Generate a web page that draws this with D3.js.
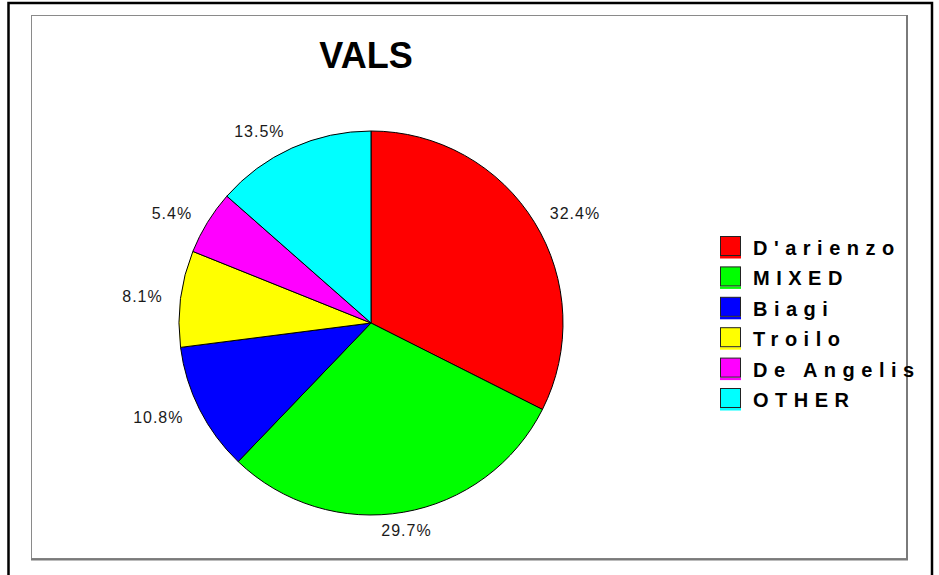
<html>
<head>
<script src="https://cdn.jsdelivr.net/npm/d3@7"></script>
<style>
  body { margin: 0; background: #fff; }
  text { font-family: Arial, "Liberation Sans", sans-serif; }
</style>
</head>
<body>
<script type="text/javascript">
// chart data
var categories = ["D'arienzo", "MIXED", "Biagi", "Troilo", "De Angelis", "OTHER"];
var counts = [12, 11, 4, 3, 2, 5];
var colors = ["#ff0000", "#00ff00", "#0000ff", "#ffff00", "#ff00ff", "#00ffff"];
var title = "VALS";

var width = 939, height = 575;
var svg = d3.select("body").append("svg").attr("width", width).attr("height", height);

// outer black frame (bottom edge runs off the picture)
svg.append("rect").attr("x", 8.5).attr("y", 3).attr("width", 923.5).attr("height", 600)
   .attr("fill", "none").attr("stroke", "#000").attr("stroke-width", 2.5);

// inner grey panel
svg.append("rect").attr("x", 31.5).attr("y", 15.5).attr("width", 875).attr("height", 543)
   .attr("fill", "#fff").attr("stroke", "#8a8a8a").attr("stroke-width", 1);
svg.append("path").attr("d", "M907,15V559.5H31").attr("fill", "none")
   .attr("stroke", "#7a7a7a").attr("stroke-width", 2);

// title
svg.append("text").text(title).attr("x", 366).attr("y", 68)
   .attr("text-anchor", "middle").attr("font-weight", "bold").attr("font-size", "36px");

//The pie
var cx = 371, cy = 323, radius = 192;
var total = d3.sum(counts);
var color = d3.scaleOrdinal().domain(categories).range(colors);
var pct = d3.format(".1%");

var pie = d3.pie().sort(null).value(function(d, i) { return counts[i]; });
var arcs = pie(categories);
var arc = d3.arc().innerRadius(0).outerRadius(radius);
var labelArc = d3.arc().innerRadius(radius + 18).outerRadius(radius + 18);

var g = svg.append("g").attr("transform", "translate(" + cx + "," + cy + ")");

g.selectAll("path.slice").data(arcs).enter().append("path")
 .attr("class", "slice")
 .attr("d", arc)
 .attr("fill", function(d) { return color(d.data); })
 .attr("stroke", "#000").attr("stroke-width", 1).attr("stroke-linejoin", "round");

g.selectAll("text.pct").data(arcs).enter().append("text")
 .attr("class", "pct")
 .text(function(d) { return pct(d.value / total); })
 .attr("x", function(d) { return labelArc.centroid(d)[0]; })
 .attr("y", function(d) { return labelArc.centroid(d)[1]; })
 .attr("dy", "0.35em")
 .attr("text-anchor", function(d) {
     var s = Math.sin((d.startAngle + d.endAngle) / 2);
     return s > 0.3 ? "start" : (s < -0.3 ? "end" : "middle");
 })
 .attr("font-size", "16px").attr("letter-spacing", "1px").attr("fill", "#1a1a1a");

//The legend
var legendY = d3.scalePoint().domain(categories).range([236, 388]);
var legend = svg.selectAll("g.legend").data(categories).enter().append("g")
   .attr("class", "legend")
   .attr("transform", function(d) { return "translate(720," + legendY(d) + ")"; });

legend.append("rect").attr("x", 0).attr("y", 20).attr("width", 21).attr("height", 2.5)
   .attr("fill", function(d) { return color(d); });
legend.append("rect").attr("x", 0.5).attr("y", 0.5).attr("width", 20).attr("height", 19)
   .attr("fill", function(d) { return color(d); })
   .attr("stroke", "#222").attr("stroke-width", 1);
legend.append("text").text(function(d) { return d; })
   .attr("x", 33).attr("y", 19)
   .attr("font-weight", "bold").attr("font-size", "20px").attr("letter-spacing", "6.5px");
</script>
</body>
</html>
